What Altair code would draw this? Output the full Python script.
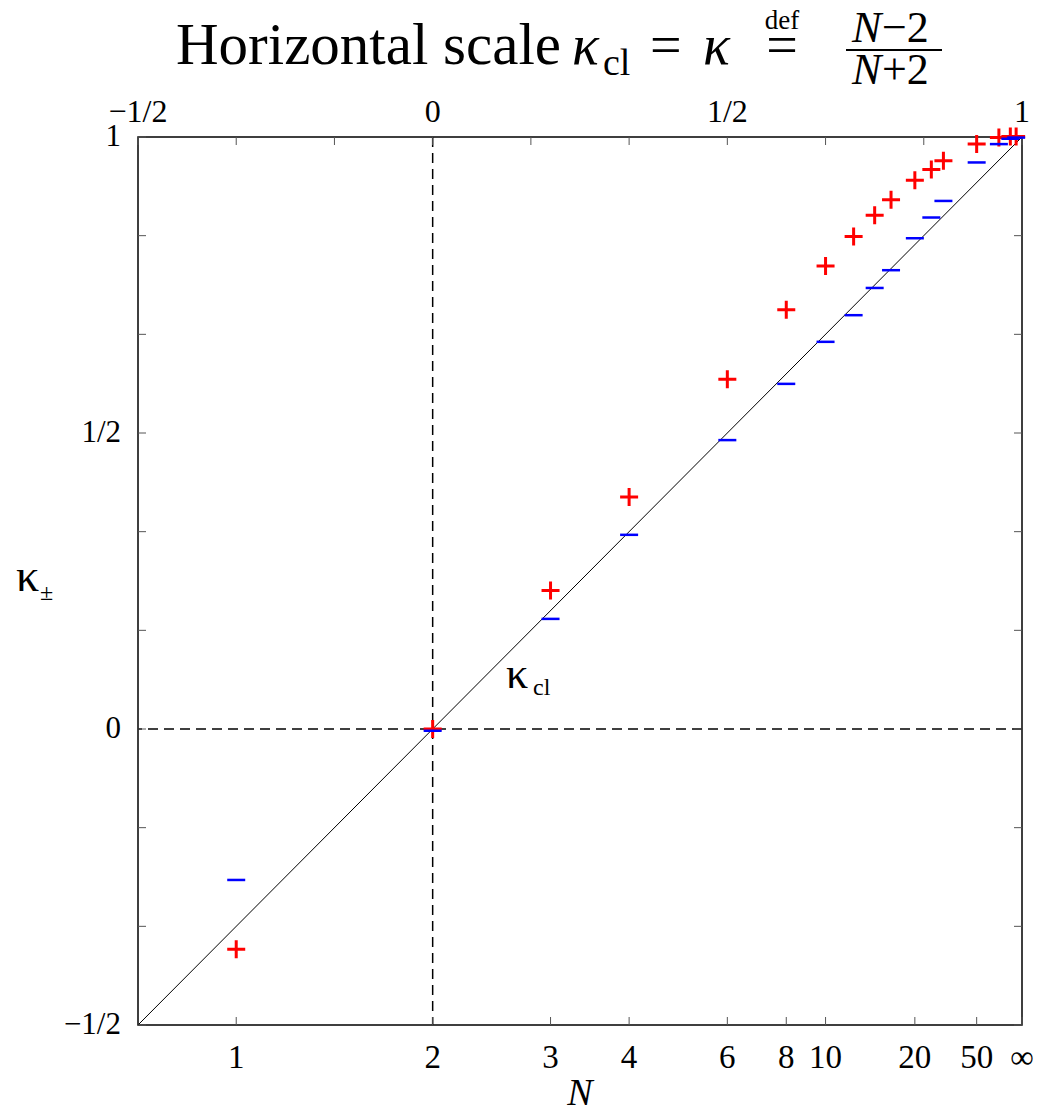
import altair as alt
import pandas as pd

# ---------------- data ----------------
N_VALUES = [1, 2, 3, 4, 6, 8, 10, 12, 14, 16, 20, 24, 28, 50, 100, 200, 400]
KAPPA_PLUS = [-0.372, 0.0, 0.234, 0.392, 0.591, 0.708, 0.782, 0.832, 0.868,
              0.894, 0.927, 0.945, 0.960, 0.988, 0.999, 1.001, 1.001]
KAPPA_MINUS = [-0.255, -0.003, 0.186, 0.328, 0.488, 0.583, 0.654, 0.699, 0.745,
               0.775, 0.829, 0.864, 0.892, 0.957, 0.988, 0.997, 0.999]
CL_LINE = [-0.5, 1.0]

BOTTOM_TICK_N = [1, 2, 3, 4, 6, 8, 10, 20, 50, None]
BOTTOM_TICK_LABELS = ["1", "2", "3", "4", "6", "8", "10", "20", "50", "∞"]
FRAME_TICKS = [-1/2, -1/3, -1/6, 0, 1/6, 1/3, 1/2, 2/3, 5/6, 1]
EDGE_LABEL_VALUES = [-0.5, 0, 0.5, 1]
EDGE_LABELS = ["−1/2", "0", "1/2", "1"]

# ---------------- layout ----------------
W, H = 884, 888
PAD_L, PAD_T, PAD_R, PAD_B = 138, 137, 19, 89
SERIF = "Liberation Serif"
TICK_COLOR = "#555555"
KAPPA_OF_N = "isValid(datum.N) && isFinite(datum.N) ? (datum.N - 2) / (datum.N + 2) : 1"

xs = alt.Scale(domain=[-0.5, 1], nice=False, zero=False)
ys = alt.Scale(domain=[-0.5, 1], nice=False, zero=False)


def X(f):
    return alt.X(f, type="quantitative", scale=xs, axis=None)


def Y(f):
    return alt.Y(f, type="quantitative", scale=ys, axis=None)


def txt(s, x, y, size, italic=False, align="left", baseline="alphabetic"):
    return alt.Chart(alt.Data(values=[{}])).mark_text(
        text=s, align=align, baseline=baseline, fontSize=size, font=SERIF,
        fontStyle="italic" if italic else "normal", color="black"
    ).encode(x=alt.value(x - PAD_L), y=alt.value(y - PAD_T))


pts = pd.DataFrame({"N": N_VALUES, "plus": KAPPA_PLUS, "minus": KAPPA_MINUS})
line_df = pd.DataFrame({"x": CL_LINE, "y": CL_LINE})
zero_df = pd.DataFrame({"v": [0.0]})
btick_df = pd.DataFrame({"N": BOTTOM_TICK_N, "label": BOTTOM_TICK_LABELS})
ftick_df = pd.DataFrame({"v": FRAME_TICKS})
elab_df = pd.DataFrame({"v": EDGE_LABEL_VALUES, "label": EDGE_LABELS})

# zero lines (dashed)
vzero = alt.Chart(zero_df).mark_rule(color="black", strokeWidth=1.5, strokeDash=[10, 6]).encode(x=X("v"))
hzero = alt.Chart(zero_df).mark_rule(color="black", strokeWidth=1.5, strokeDash=[10, 6]).encode(y=Y("v"))

# classical diagonal
diag = alt.Chart(line_df).mark_line(color="black", strokeWidth=1).encode(x=X("x"), y=Y("y"))

# frame ticks
bticks = alt.Chart(btick_df).transform_calculate(kappa=KAPPA_OF_N).mark_rule(
    color=TICK_COLOR, strokeWidth=1).encode(x=X("kappa"), y=alt.value(H), y2=alt.value(H - 8))
tticks = alt.Chart(ftick_df).mark_rule(color=TICK_COLOR, strokeWidth=1).encode(
    x=X("v"), y=alt.value(0), y2=alt.value(8))
lticks = alt.Chart(ftick_df).mark_rule(color=TICK_COLOR, strokeWidth=1).encode(
    y=Y("v"), x=alt.value(0), x2=alt.value(8))
rticks = alt.Chart(ftick_df).mark_rule(color=TICK_COLOR, strokeWidth=1).encode(
    y=Y("v"), x=alt.value(W), x2=alt.value(W - 8))

# tick labels
blabels = alt.Chart(btick_df).transform_calculate(kappa=KAPPA_OF_N).mark_text(
    font=SERIF, fontSize=33, baseline="middle", color="black").encode(
    x=X("kappa"), y=alt.value(H + 33), text="label:N")
tlabels = alt.Chart(elab_df).mark_text(
    font=SERIF, fontSize=32, baseline="middle", color="black").encode(
    x=X("v"), y=alt.value(-25), text="label:N")
llabels = alt.Chart(elab_df).mark_text(
    font=SERIF, fontSize=31, baseline="middle", align="right", color="black").encode(
    y=Y("v"), x=alt.value(-17), text="label:N")

# markers
red = alt.Chart(pts).transform_calculate(kappa=KAPPA_OF_N).mark_point(
    shape="M -1 0 L 1 0 M 0 -1 L 0 1", size=324, filled=False, color="#ff0000",
    strokeWidth=3, opacity=1).encode(x=X("kappa"), y=Y("plus"))
blue = alt.Chart(pts).transform_calculate(kappa=KAPPA_OF_N).mark_point(
    shape="M -1 0 L 1 0", size=324, filled=False, color="#0000ff",
    strokeWidth=2.5, opacity=1).encode(x=X("kappa"), y=Y("minus"))

# annotations
annots = [
    # title
    txt("Horizontal scale", 176, 64, 59),
    txt("κ", 572, 64, 56, italic=True),
    txt("cl", 603, 75, 38),
    txt("=", 650, 64, 56),
    txt("κ", 703, 64, 56, italic=True),
    txt("def", 782, 29, 27, align="center"),
    txt("=", 782, 64, 56, align="center"),
    txt("N", 852, 42, 44, italic=True),
    txt("−2", 882, 42, 44),
    txt("N", 852, 84, 44, italic=True),
    txt("+2", 882, 84, 44),
    # axis titles
    txt("N", 580, 1105, 38, italic=True, align="center"),
    txt("κ", 16, 591, 46),
    txt("±", 40, 600, 24),
    # curve label
    txt("κ", 506, 688, 44),
    txt("cl", 533, 695, 24),
]
frac_bar = alt.Chart(alt.Data(values=[{}])).mark_rule(color="black", strokeWidth=2).encode(
    x=alt.value(846 - PAD_L), x2=alt.value(942 - PAD_L), y=alt.value(50 - PAD_T))

chart = alt.layer(
    vzero, hzero, diag, bticks, tticks, lticks, rticks,
    blabels, tlabels, llabels, red, blue, frac_bar, *annots
).properties(
    width=W, height=H,
    autosize=alt.AutoSizeParams(type="none"),
    padding={"left": PAD_L, "top": PAD_T, "right": PAD_R, "bottom": PAD_B},
    background="white",
).configure_view(stroke="black", strokeWidth=1.5)

chart.save("out.html", embed_options={"renderer": "svg", "actions": False})
